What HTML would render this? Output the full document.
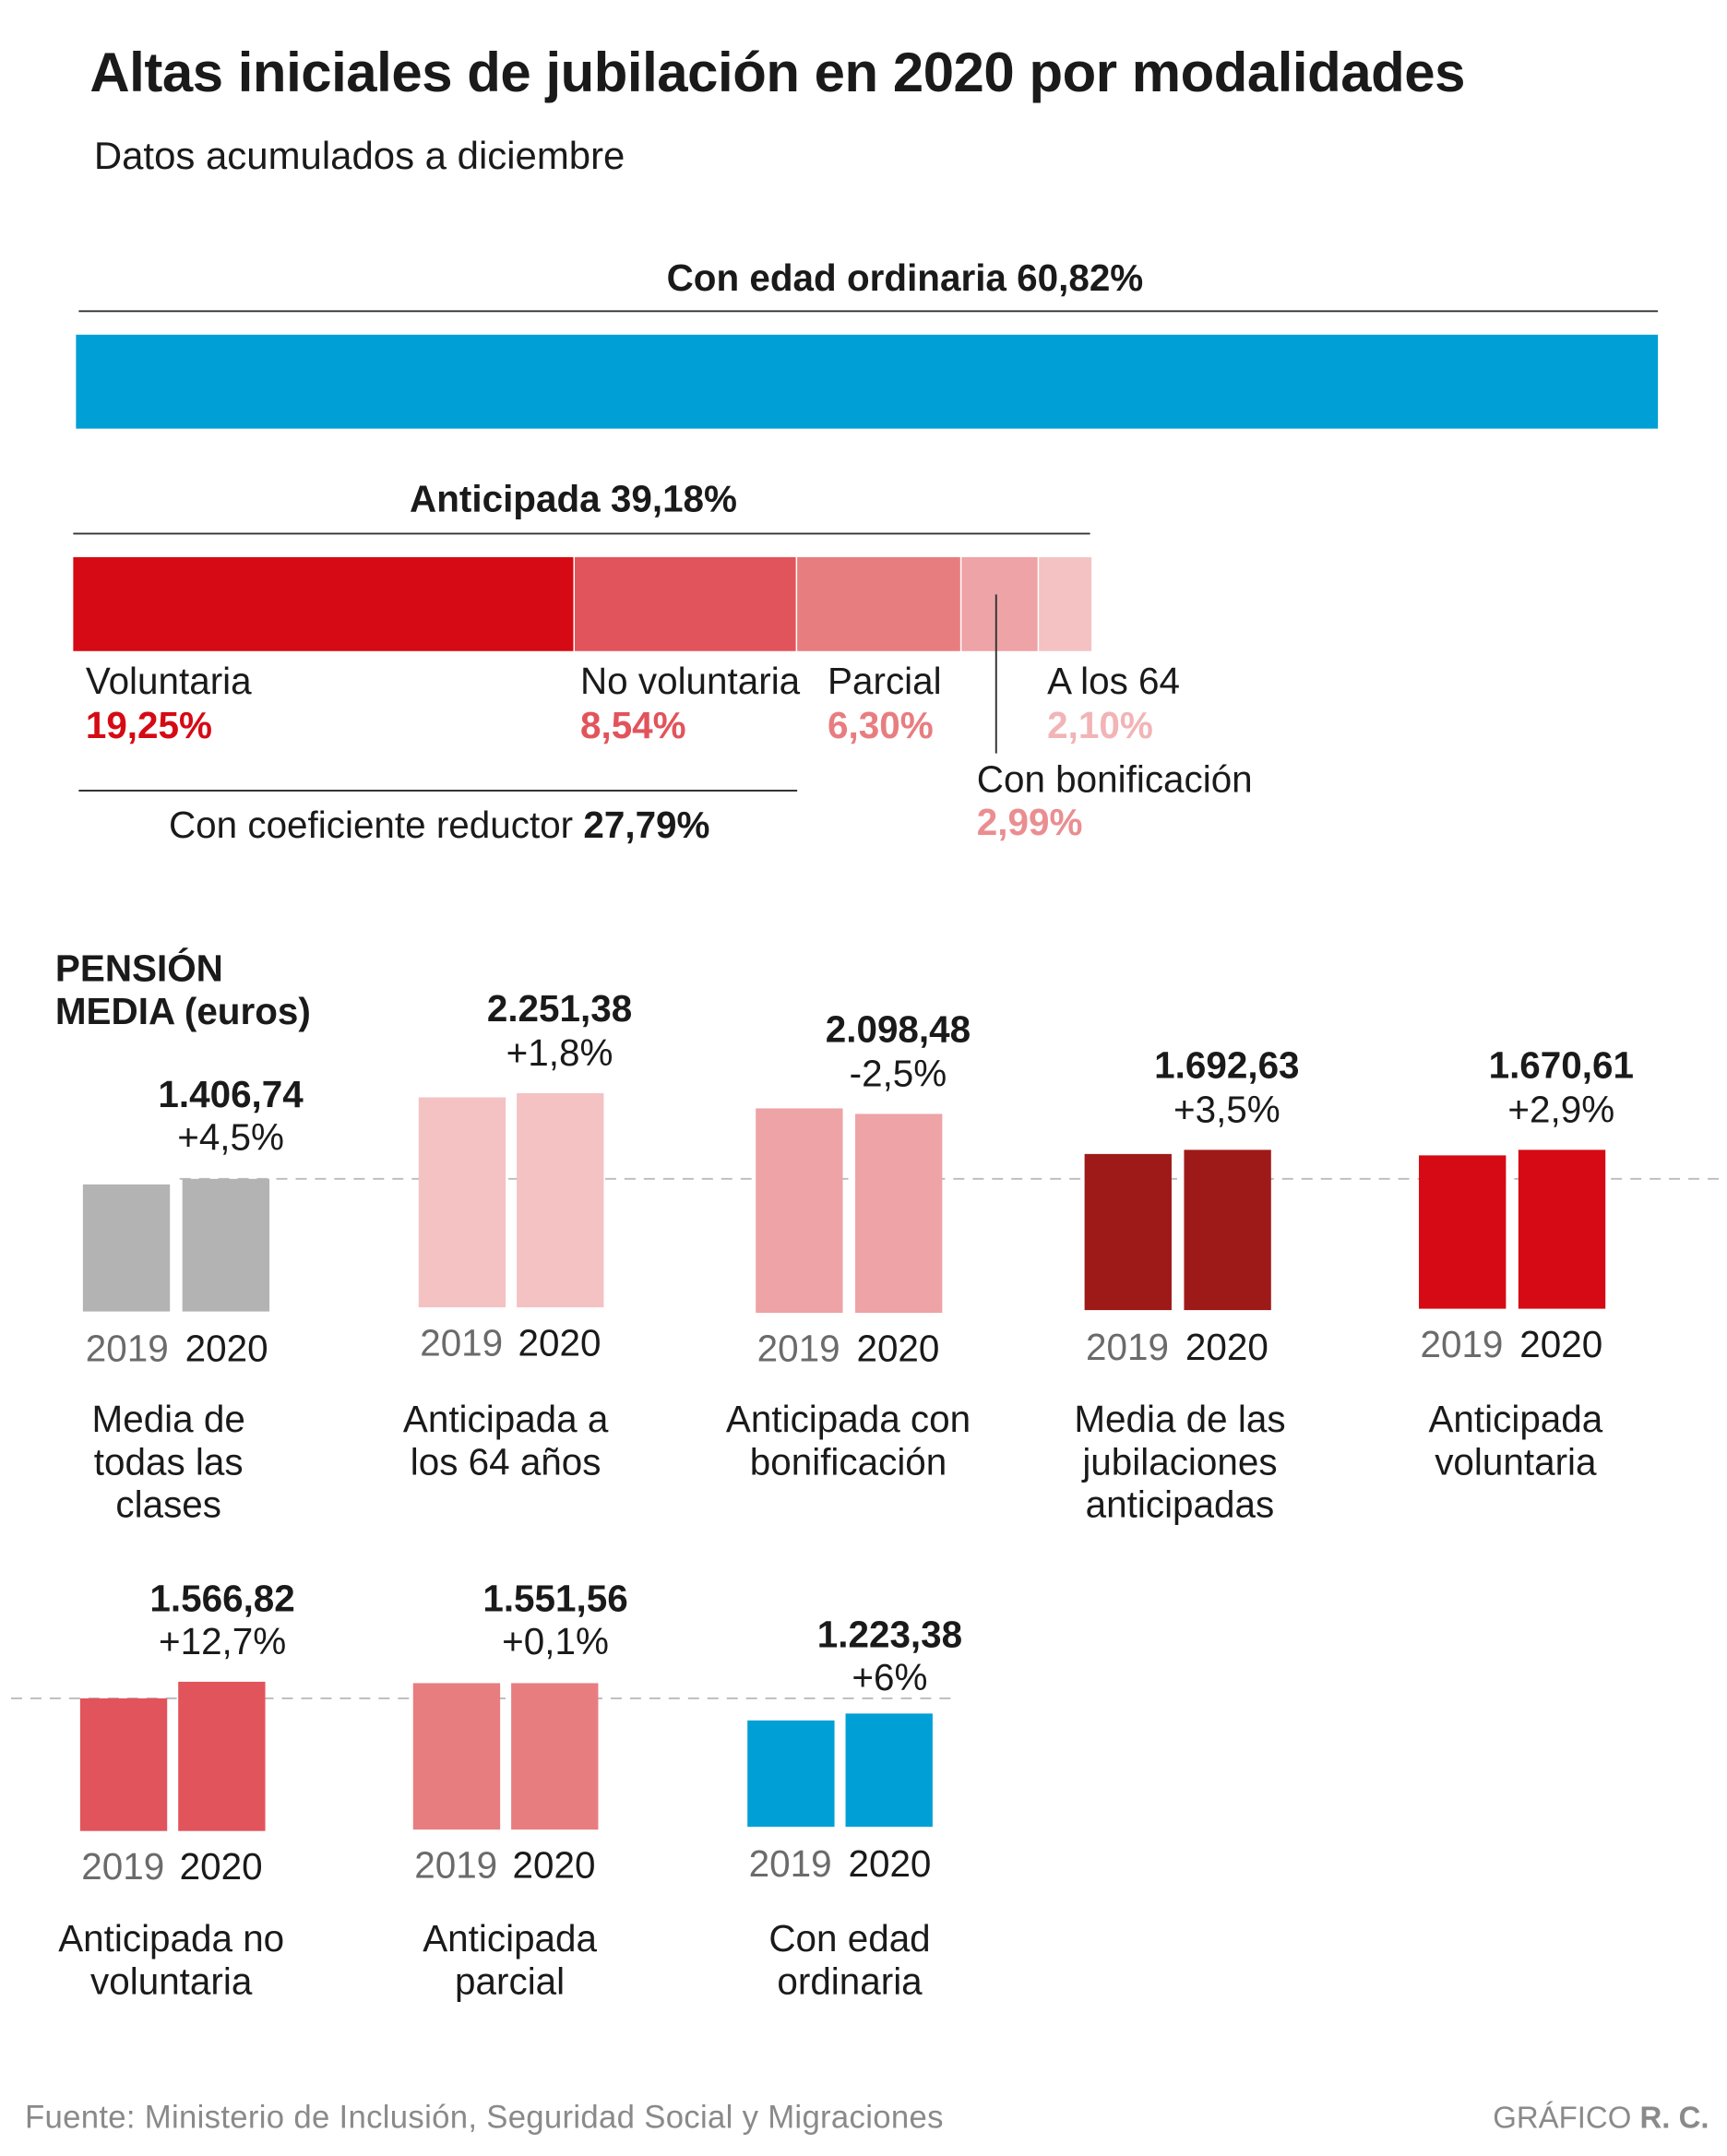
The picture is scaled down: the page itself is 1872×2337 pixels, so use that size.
<!DOCTYPE html>
<html><head><meta charset="utf-8"><style>
html,body{margin:0;padding:0;background:#fff}
svg{display:block}
text{font-family:"Liberation Sans Narrow","Liberation Sans",sans-serif;fill:#1a1a1a}
.b{font-weight:bold}
.g{fill:#6b6b6b}
</style></head><body>
<svg width="1872" height="2337" viewBox="0 0 1250 1560" xmlns="http://www.w3.org/2000/svg">
<rect width="1250" height="1560" fill="#fff"/>
<text x="65" y="66" font-size="40" class="b" style="font-family:'Liberation Sans',sans-serif;letter-spacing:-0.3px">Altas iniciales de jubilación en 2020 por modalidades</text>
<text x="68" y="122" font-size="28">Datos acumulados a diciembre</text>

<text x="655" y="210" font-size="27" class="b" text-anchor="middle">Con edad ordinaria 60,82%</text>
<line x1="57" y1="225" x2="1200" y2="225" stroke="#333" stroke-width="1.3"/>
<rect x="55" y="242" width="1145" height="68" fill="#009fd6"/>

<text x="415" y="370" font-size="27" class="b" text-anchor="middle">Anticipada 39,18%</text>
<line x1="53" y1="386" x2="789" y2="386" stroke="#333" stroke-width="1.3"/>
<rect x="53" y="403" width="362" height="68" fill="#d50a14"/>
<rect x="416" y="403" width="160" height="68" fill="#e2545b"/>
<rect x="577" y="403" width="118" height="68" fill="#e87d80"/>
<rect x="696" y="403" width="55" height="68" fill="#eea3a6"/>
<rect x="752" y="403" width="38" height="68" fill="#f4c2c3"/>
<line x1="721" y1="430" x2="721" y2="545" stroke="#333" stroke-width="1.3"/>

<g font-size="27">
<text x="62" y="502">Voluntaria</text>
<text x="62" y="534" class="b" style="fill:#d50a14">19,25%</text>
<text x="420" y="502">No voluntaria</text>
<text x="420" y="534" class="b" style="fill:#e2545b">8,54%</text>
<text x="599" y="502">Parcial</text>
<text x="599" y="534" class="b" style="fill:#e87d80">6,30%</text>
<text x="758" y="502">A los 64</text>
<text x="758" y="534" class="b" style="fill:#f2b4b6">2,10%</text>
<text x="707" y="573">Con bonificación</text>
<text x="707" y="604" class="b" style="fill:#ea8e91">2,99%</text>
<text x="318" y="606" text-anchor="middle">Con coeficiente reductor <tspan class="b">27,79%</tspan></text>
</g>
<line x1="57" y1="572" x2="577" y2="572" stroke="#333" stroke-width="1.3"/>

<text x="40" y="710" font-size="27" class="b">PENSIÓN</text>
<text x="40" y="741" font-size="27" class="b">MEDIA (euros)</text>

<line x1="130" y1="853" x2="1250" y2="853" stroke="#bbb" stroke-width="1.3" stroke-dasharray="8,6"/>
<line x1="8" y1="1229" x2="690" y2="1229" stroke="#bbb" stroke-width="1.3" stroke-dasharray="8,6"/>

<g font-size="27">
<rect x="60" y="857" width="63" height="92" fill="#b3b3b3"/>
<rect x="132" y="853" width="63" height="96" fill="#b3b3b3"/>
<text x="167" y="801" class="b" text-anchor="middle">1.406,74</text>
<text x="167" y="832" text-anchor="middle">+4,5%</text>
<text x="92" y="985" class="g" text-anchor="middle">2019</text>
<text x="164" y="985" text-anchor="middle">2020</text>
<text x="122" y="1036" text-anchor="middle">Media de</text>
<text x="122" y="1067" text-anchor="middle">todas las</text>
<text x="122" y="1098" text-anchor="middle">clases</text>

<rect x="303" y="794" width="63" height="152" fill="#f4c2c3"/>
<rect x="374" y="791" width="63" height="155" fill="#f4c2c3"/>
<text x="405" y="739" class="b" text-anchor="middle">2.251,38</text>
<text x="405" y="771" text-anchor="middle">+1,8%</text>
<text x="334" y="981" class="g" text-anchor="middle">2019</text>
<text x="405" y="981" text-anchor="middle">2020</text>
<text x="366" y="1036" text-anchor="middle">Anticipada a</text>
<text x="366" y="1067" text-anchor="middle">los 64 años</text>

<rect x="547" y="802" width="63" height="148" fill="#eea3a6"/>
<rect x="619" y="806" width="63" height="144" fill="#eea3a6"/>
<text x="650" y="754" class="b" text-anchor="middle">2.098,48</text>
<text x="650" y="786" text-anchor="middle">-2,5%</text>
<text x="578" y="985" class="g" text-anchor="middle">2019</text>
<text x="650" y="985" text-anchor="middle">2020</text>
<text x="614" y="1036" text-anchor="middle">Anticipada con</text>
<text x="614" y="1067" text-anchor="middle">bonificación</text>

<rect x="785" y="835" width="63" height="113" fill="#9e1a19"/>
<rect x="857" y="832" width="63" height="116" fill="#9e1a19"/>
<text x="888" y="780" class="b" text-anchor="middle">1.692,63</text>
<text x="888" y="812" text-anchor="middle">+3,5%</text>
<text x="816" y="984" class="g" text-anchor="middle">2019</text>
<text x="888" y="984" text-anchor="middle">2020</text>
<text x="854" y="1036" text-anchor="middle">Media de las</text>
<text x="854" y="1067" text-anchor="middle">jubilaciones</text>
<text x="854" y="1098" text-anchor="middle">anticipadas</text>

<rect x="1027" y="836" width="63" height="111" fill="#d50a14"/>
<rect x="1099" y="832" width="63" height="115" fill="#d50a14"/>
<text x="1130" y="780" class="b" text-anchor="middle">1.670,61</text>
<text x="1130" y="812" text-anchor="middle">+2,9%</text>
<text x="1058" y="982" class="g" text-anchor="middle">2019</text>
<text x="1130" y="982" text-anchor="middle">2020</text>
<text x="1097" y="1036" text-anchor="middle">Anticipada</text>
<text x="1097" y="1067" text-anchor="middle">voluntaria</text>

<rect x="58" y="1229" width="63" height="96" fill="#e2545b"/>
<rect x="129" y="1217" width="63" height="108" fill="#e2545b"/>
<text x="161" y="1166" class="b" text-anchor="middle">1.566,82</text>
<text x="161" y="1197" text-anchor="middle">+12,7%</text>
<text x="89" y="1360" class="g" text-anchor="middle">2019</text>
<text x="160" y="1360" text-anchor="middle">2020</text>
<text x="124" y="1412" text-anchor="middle">Anticipada no</text>
<text x="124" y="1443" text-anchor="middle">voluntaria</text>

<rect x="299" y="1218" width="63" height="106" fill="#e87d80"/>
<rect x="370" y="1218" width="63" height="106" fill="#e87d80"/>
<text x="402" y="1166" class="b" text-anchor="middle">1.551,56</text>
<text x="402" y="1197" text-anchor="middle">+0,1%</text>
<text x="330" y="1359" class="g" text-anchor="middle">2019</text>
<text x="401" y="1359" text-anchor="middle">2020</text>
<text x="369" y="1412" text-anchor="middle">Anticipada</text>
<text x="369" y="1443" text-anchor="middle">parcial</text>

<rect x="541" y="1245" width="63" height="77" fill="#009fd6"/>
<rect x="612" y="1240" width="63" height="82" fill="#009fd6"/>
<text x="644" y="1192" class="b" text-anchor="middle">1.223,38</text>
<text x="644" y="1223" text-anchor="middle">+6%</text>
<text x="572" y="1358" class="g" text-anchor="middle">2019</text>
<text x="644" y="1358" text-anchor="middle">2020</text>
<text x="615" y="1412" text-anchor="middle">Con edad</text>
<text x="615" y="1443" text-anchor="middle">ordinaria</text>
</g>

<text x="18" y="1540" font-size="23.2" style="fill:#8a8a8a;font-family:'Liberation Sans',sans-serif;letter-spacing:0.2px">Fuente: Ministerio de Inclusión, Seguridad Social y Migraciones</text>
<text x="1237" y="1540" font-size="22" text-anchor="end" style="fill:#8a8a8a;font-family:'Liberation Sans',sans-serif">GRÁFICO <tspan font-weight="bold">R. C.</tspan></text>
</svg>
</body></html>
